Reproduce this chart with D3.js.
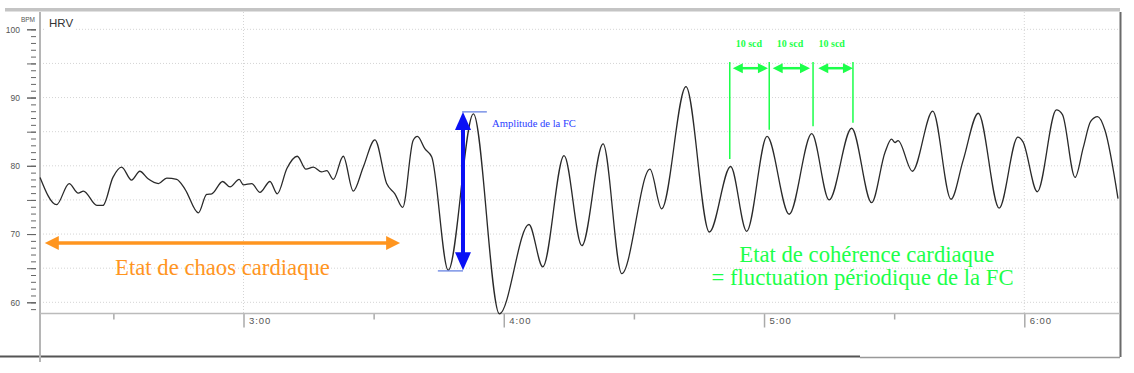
<!DOCTYPE html>
<html>
<head>
<meta charset="utf-8">
<script src="https://cdn.jsdelivr.net/npm/d3@7"></script>
<style>
  body { margin: 0; background: #fff; }
  svg { display: block; }
</style>
</head>
<body>
<div class="visHolder"></div>
<script>
// HRV trace: time in seconds, heart rate in BPM
let times = [133.1, 136.9, 139.8, 141.9, 143.1, 146.2, 147.6, 149.9, 151.9, 154.2,
             156.1, 158.0, 160.4, 162.3, 164.6, 166.5, 169.6, 171.5, 172.7, 175.2,
             176.9, 179.0, 180.0, 181.9, 183.8, 186.1, 187.8, 190.0, 192.4, 194.4,
             196.1, 198.0, 199.2, 200.7, 203.0, 205.3, 207.6, 210.3, 213.0, 214.9,
             216.7, 219.1, 220.1, 221.8, 223.4, 227.2, 233.0, 239.0, 245.8, 249.0,
             253.9, 258.0, 262.9, 267.2, 273.7, 276.4, 282.0, 287.4, 292.3, 296.0,
             300.7, 305.8, 311.0, 315.0, 320.2, 324.8, 327.9, 329.4, 330.2, 330.9,
             334.2, 338.9, 343.1, 345.9, 349.4, 354.2, 358.5, 359.7, 363.0, 367.4,
             368.8, 371.7, 373.6, 375.3, 376.9, 378.6, 381.6];
let bpm = [78.3, 74.3, 77.4, 76.0, 76.3, 74.2, 74.2, 78.3, 79.8, 77.9,
           79.2, 78.1, 77.4, 78.2, 78.0, 76.6, 73.1, 75.8, 75.9, 77.7,
           76.9, 78.0, 77.2, 77.4, 76.1, 77.7, 75.9, 79.6, 81.4, 79.5,
           79.8, 79.1, 79.3, 78.0, 81.4, 76.3, 79.8, 83.8, 77.4, 75.9,
           73.9, 83.7, 84.3, 82.5, 81.3, 64.7, 87.6, 58.3, 71.4, 65.2,
           81.5, 68.3, 83.2, 64.2, 79.5, 73.7, 91.6, 70.3, 79.9, 70.4,
           84.3, 72.9, 84.7, 75.0, 85.5, 74.6, 82.0, 83.9, 83.4, 83.7,
           79.2, 88.0, 75.1, 80.8, 87.7, 73.8, 84.2, 83.5, 76.2, 88.2,
           87.5, 78.3, 82.7, 86.5, 87.2, 85.2, 75.2];

let xMajorTicks = [180, 240, 300, 360];
let xMinorTicks = [150, 210, 270, 330];
let xGridTicks = [180, 360];
let yLabelTicks = [60, 70, 80, 90, 100];
let yMidTicks = [60, 65, 70, 75, 80, 85, 90, 95, 100];
let yMinorTicks = d3.range(59, 101);

// annotations (data units)
let chaosArrow = [134.2, 216.1, 68.7];          // t1, t2, bpm
let ampArrow = [230.6, 87.9, 64.7];             // t, bpm top, bpm bottom
let ampMarks = [[230.4, 236.1, 87.9], [224.8, 230.6, 64.6]];
let greenLines = [[292.1, 81.0], [301.2, 85.3], [311.3, 85.8], [320.5, 86.3]];
let greenSpans = [[292.8, 300.9], [302.0, 310.6], [312.5, 320.5]];
let greenLabels = [296.5, 306.0, 315.6];

let width = 1134;
let height = 373;
let plotLeft = 40, plotRight = 1120, plotTop = 12, axisY = 313.5;

let orange = '#ff951f', green = '#1cff4a', blue = '#0a10f5';
let serif = 'Liberation Serif, Times New Roman, serif';

let svg = d3.select('.visHolder').append('svg')
  .attr('width', width)
  .attr('height', height)
  .style('font-family', 'Liberation Sans, Arial, sans-serif');

let xScale = d3.scaleLinear().domain([180, 360]).range([243.5, 1024.3]);
let yScale = d3.scaleLinear().domain([60, 100]).range([302.3, 29.3]);

// frame
svg.append('rect').attr('x', 5).attr('y', 8).attr('width', plotRight - 5).attr('height', 3.5).attr('fill', '#c4c4c4');
svg.append('line').attr('x1', plotRight + 0.5).attr('x2', plotRight + 0.5).attr('y1', plotTop).attr('y2', 357)
  .attr('stroke', '#6a6a6a').attr('stroke-width', 2);
svg.append('line').attr('x1', 0).attr('x2', 860).attr('y1', 356.5).attr('y2', 356.5)
  .attr('stroke', '#555').attr('stroke-width', 2);
svg.append('line').attr('x1', 860).attr('x2', plotRight).attr('y1', 357.5).attr('y2', 357.5)
  .attr('stroke', '#999').attr('stroke-width', 1.5);

// grid
svg.append('g').selectAll('line').data(yMidTicks).join('line')
  .attr('x1', plotLeft).attr('x2', plotRight)
  .attr('y1', d => yScale(d)).attr('y2', d => yScale(d))
  .attr('stroke', '#d4d4d4').attr('stroke-dasharray', '1,2');
svg.append('g').selectAll('line').data(xGridTicks).join('line')
  .attr('x1', d => xScale(d)).attr('x2', d => xScale(d))
  .attr('y1', plotTop).attr('y2', axisY)
  .attr('stroke', '#d4d4d4').attr('stroke-dasharray', '1,2');

// HRV title
svg.append('rect').attr('x', 45).attr('y', 16).attr('width', 29).attr('height', 14).attr('fill', '#fff');
svg.append('text').attr('x', 49).attr('y', 27.3).text('HRV')
  .attr('font-size', 11.5).attr('fill', '#333');

// y axis
function yAxisGroup(values, size, labels) {
  let ax = d3.axisLeft(yScale).tickValues(values).tickSize(size).tickPadding(7)
    .tickFormat(labels ? d3.format('d') : '');
  let g = svg.append('g').attr('transform', 'translate(36,0)').call(ax);
  g.select('.domain').remove();
  g.selectAll('line').attr('stroke', '#666');
  g.selectAll('text').attr('fill', '#555').attr('font-size', 8.5)
    .attr('font-family', 'Liberation Sans, Arial, sans-serif');
}
yAxisGroup(yMinorTicks, 5, false);
yAxisGroup(yMidTicks, 9, false);
yAxisGroup(yLabelTicks, 9, true);
svg.append('text').attr('x', 35).attr('y', 22).attr('text-anchor', 'end')
  .attr('font-size', 6.5).attr('fill', '#555').text('BPM');
svg.append('line').attr('x1', plotLeft).attr('x2', plotLeft).attr('y1', plotTop).attr('y2', 362)
  .attr('stroke', '#b5b5b5').attr('stroke-width', 2);

// x axis
let xFmt = d => Math.floor(d / 60) + ':' + d3.format('02d')(d % 60);
let xg = svg.append('g').attr('transform', 'translate(0,' + axisY + ')')
  .call(d3.axisBottom(xScale).tickValues(xMajorTicks).tickSize(14).tickFormat(xFmt));
xg.select('.domain').remove();
xg.selectAll('line').attr('stroke', '#aaa').attr('stroke-width', 1.5);
xg.selectAll('text').attr('text-anchor', 'start').attr('x', 5).attr('y', 3.5).attr('dy', '0.71em')
  .attr('fill', '#555').attr('font-size', 9.5).attr('letter-spacing', 0.9)
  .attr('font-family', 'Liberation Sans, Arial, sans-serif');
let xm = svg.append('g').attr('transform', 'translate(0,' + axisY + ')')
  .call(d3.axisBottom(xScale).tickValues(xMinorTicks).tickSize(6).tickFormat(''));
xm.select('.domain').remove();
xm.selectAll('line').attr('stroke', '#aaa').attr('stroke-width', 1.5);
svg.append('line').attr('x1', plotLeft).attr('x2', plotRight).attr('y1', axisY).attr('y2', axisY)
  .attr('stroke', '#bbb').attr('stroke-width', 1.5);

// HRV curve
let points = times.map((t, i) => [t, bpm[i]]);
let line = d3.line().x(d => xScale(d[0])).y(d => yScale(d[1])).curve(d3.curveMonotoneX);
svg.append('path').datum(points).attr('d', line)
  .attr('fill', 'none').attr('stroke', '#2a2a2a').attr('stroke-width', 1.3);

// arrows
function head(x, y, ang, len, w, color) {
  let bx = x - Math.cos(ang) * len, by = y - Math.sin(ang) * len;
  let px = -Math.sin(ang) * w / 2, py = Math.cos(ang) * w / 2;
  svg.append('path')
    .attr('d', 'M' + x + ',' + y + 'L' + (bx + px) + ',' + (by + py) + 'L' + (bx - px) + ',' + (by - py) + 'Z')
    .attr('fill', color);
}
function doubleArrow(x1, y1, x2, y2, color, sw, len, w) {
  let ang = Math.atan2(y2 - y1, x2 - x1);
  svg.append('line')
    .attr('x1', x1 + Math.cos(ang) * len * 0.7).attr('y1', y1 + Math.sin(ang) * len * 0.7)
    .attr('x2', x2 - Math.cos(ang) * len * 0.7).attr('y2', y2 - Math.sin(ang) * len * 0.7)
    .attr('stroke', color).attr('stroke-width', sw);
  head(x2, y2, ang, len, w, color);
  head(x1, y1, ang + Math.PI, len, w, color);
}

// chaos
doubleArrow(xScale(chaosArrow[0]), yScale(chaosArrow[2]), xScale(chaosArrow[1]), yScale(chaosArrow[2]), orange, 3.5, 14, 14);
svg.append('text').attr('x', xScale(150.4)).attr('y', yScale(64.0))
  .attr('font-family', serif).attr('font-size', 22.7)
  .attr('fill', orange).text('Etat de chaos cardiaque');

// amplitude
svg.selectAll('.amp').data(ampMarks).join('line')
  .attr('x1', d => xScale(d[0])).attr('x2', d => xScale(d[1]))
  .attr('y1', d => yScale(d[2])).attr('y2', d => yScale(d[2]))
  .attr('stroke', '#5a78e0').attr('stroke-width', 1.2);
doubleArrow(xScale(ampArrow[0]), yScale(ampArrow[1]), xScale(ampArrow[0]), yScale(ampArrow[2]), blue, 4, 18, 16);
svg.append('text').attr('x', xScale(237.3)).attr('y', yScale(85.7))
  .attr('font-family', serif).attr('font-size', 10.6)
  .attr('fill', '#2a3cff').text('Amplitude de la FC');

// coherence
svg.append('g').selectAll('line').data(greenLines).join('line')
  .attr('x1', d => xScale(d[0])).attr('x2', d => xScale(d[0]))
  .attr('y1', yScale(95.2)).attr('y2', d => yScale(d[1]))
  .attr('stroke', green).attr('stroke-width', 1.5);
greenSpans.forEach(s => doubleArrow(xScale(s[0]), yScale(94.3), xScale(s[1]), yScale(94.3), green, 2.5, 10, 10));
svg.append('g').selectAll('text').data(greenLabels).join('text')
  .attr('x', d => xScale(d)).attr('y', yScale(97.4)).attr('text-anchor', 'middle')
  .attr('font-family', serif).attr('font-size', 10)
  .attr('font-weight', 'bold').attr('fill', green).text('10 scd');
svg.append('text').attr('x', xScale(294.3)).attr('y', yScale(65.95))
  .attr('font-family', serif).attr('font-size', 22.7)
  .attr('fill', green).text('Etat de cohérence cardiaque');
svg.append('text').attr('x', xScale(287.9)).attr('y', yScale(62.53))
  .attr('font-family', serif).attr('font-size', 22.7)
  .attr('fill', green).text('= fluctuation périodique de la FC');
</script>
</body>
</html>
